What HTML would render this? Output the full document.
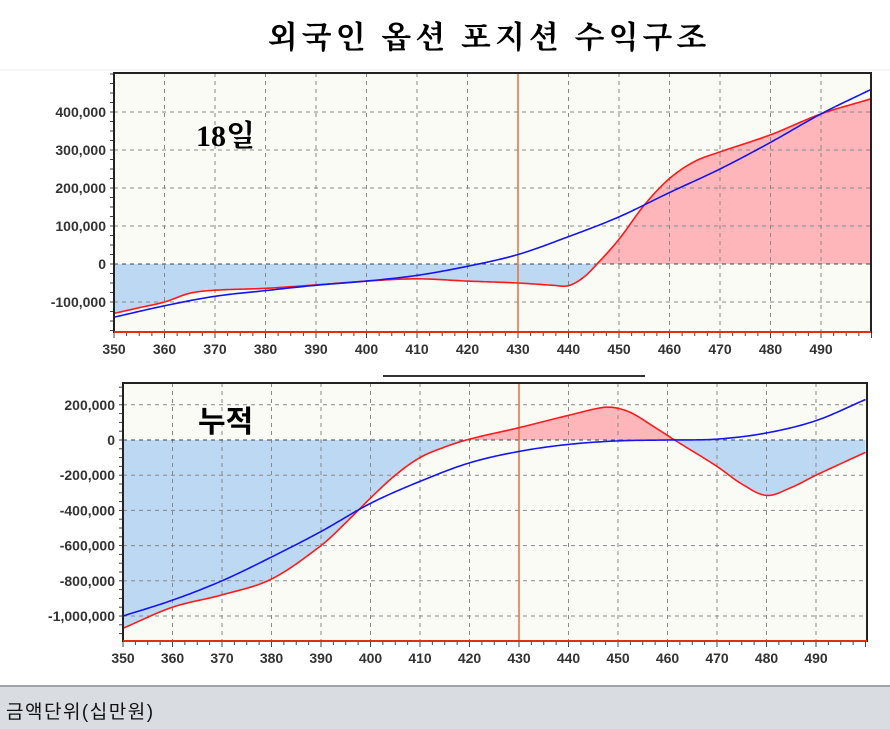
<!DOCTYPE html>
<html><head><meta charset="utf-8"><style>
html,body{margin:0;padding:0;background:#fff;width:890px;height:729px;overflow:hidden}
svg{display:block}
text{font-family:"Liberation Sans","Noto Sans CJK KR",sans-serif}
</style></head><body>
<svg width="890" height="729" xmlns="http://www.w3.org/2000/svg">
<rect x="0" y="0" width="890" height="729" fill="#fff"/>
<text x="489" y="48" text-anchor="middle" font-size="31" font-weight="bold" style="font-family:'Liberation Serif','Noto Serif CJK SC',serif" letter-spacing="4">외국인 옵션 포지션 수익구조</text>
<line x1="0" y1="70" x2="890" y2="70" stroke="#eee"/>
<g id="gtop"></g>
<g id="gbot"></g>
<line x1="383" y1="376" x2="645" y2="376" stroke="#333" stroke-width="2"/>
<rect x="0" y="686" width="890" height="43" fill="#d9dde2"/>
<line x1="0" y1="686" x2="890" y2="686" stroke="#a0a4a8" stroke-width="2"/>
<text x="6" y="718" font-size="19" fill="#111" letter-spacing="1.5">금액단위(십만원)</text>
</svg>
<script>
(function(){
const NS="http://www.w3.org/2000/svg";
function el(p,t,a,txt){const e=document.createElementNS(NS,t);for(const k in a)e.setAttribute(k,a[k]);if(txt!==undefined)e.textContent=txt;p.appendChild(e);return e;}
function interp(pts,v){for(let i=0;i<pts.length-1;i++){if(v>=pts[i][0]&&v<=pts[i+1][0]){const a=pts[i],b=pts[i+1];
 const p0=pts[Math.max(0,i-1)],p3=pts[Math.min(pts.length-1,i+2)];const t=(v-a[0])/(b[0]-a[0]);
 const m1=(b[1]-p0[1])/(b[0]-p0[0])*(b[0]-a[0]),m2=(p3[1]-a[1])/(p3[0]-a[0])*(b[0]-a[0]);
 const t2=t*t,t3=t2*t;return (2*t3-3*t2+1)*a[1]+(t3-2*t2+t)*m1+(-2*t3+3*t2)*b[1]+(t3-t2)*m2;}}return pts[pts.length-1][1];}
function chart(g,o){
 const X=v=>o.x0+(v-350)*o.sx, Y=v=>o.y0-v*o.sy;
 el(g,'rect',{x:o.L,y:o.T,width:o.R-o.L,height:o.B-o.T,fill:'#fbfbf6'});
 let pos=`M${X(350)},${o.y0}`,neg=`M${X(350)},${o.y0}`;
 for(let v=350;v<=500;v+=0.5){const r=interp(o.red,v);pos+=` L${X(v)},${Y(Math.max(r,0))}`;neg+=` L${X(v)},${Y(Math.min(r,0))}`;}
 pos+=` L${X(500)},${o.y0} Z`;neg+=` L${X(500)},${o.y0} Z`;
 el(g,'path',{d:pos,fill:'#ffb6bb'});el(g,'path',{d:neg,fill:'#bcd8f2'});
 for(let v=360;v<=490;v+=10)el(g,'line',{x1:X(v),y1:o.T,x2:X(v),y2:o.B,stroke:'#888','stroke-dasharray':'4,4'});
 o.yt.forEach(t=>{el(g,'line',{x1:o.L,y1:Y(t[0]),x2:o.R,y2:Y(t[0]),stroke:t[0]==0?'#444':'#888','stroke-dasharray':'4,4'});
  el(g,'text',{x:o.L-8,y:Y(t[0])+5,'text-anchor':'end','font-size':14,'font-weight':600,fill:'#333'},t[1]);});
 for(let y=o.y0;y>o.T;y-=o.sy*o.minor)el(g,'line',{x1:o.L-4,y1:y,x2:o.L,y2:y,stroke:'#444'});
 for(let y=o.y0;y<o.B;y+=o.sy*o.minor)el(g,'line',{x1:o.L-4,y1:y,x2:o.L,y2:y,stroke:'#444'});
 for(let v=350;v<=500;v+=2.5)el(g,'line',{x1:X(v),y1:o.B,x2:X(v),y2:o.B+(v%10==0?6:4),stroke:'#444'});
 for(let v=350;v<=490;v+=10)el(g,'text',{x:X(v),y:o.B+22,'text-anchor':'middle','font-size':14,'font-weight':600,fill:'#333'},v);
 el(g,'line',{x1:X(430),y1:o.T,x2:X(430),y2:o.B,stroke:'#e8703a','stroke-width':1.5});
 const line=(pts,c)=>{let d='';for(let v=350;v<=500;v+=0.5)d+=(d?' L':'M')+X(v)+','+Y(interp(pts,v));el(g,'path',{d:d,fill:'none',stroke:c,'stroke-width':1.6});};
 line(o.red,'#ff1a1a');line(o.blue,'#1515ee');
 el(g,'rect',{x:o.L,y:o.T,width:o.R-o.L,height:o.B-o.T,fill:'none',stroke:'#222','stroke-width':2});
 el(g,'line',{x1:o.L,y1:o.B,x2:o.R,y2:o.B,stroke:'#e03010','stroke-width':2});
}
const gt=document.getElementById('gtop'),gb=document.getElementById('gbot');
chart(gt,{L:114,T:73,R:871,B:332,x0:114,sx:5.05,y0:264,sy:38,minor:0.25,
 yt:[[4,'400,000'],[3,'300,000'],[2,'200,000'],[1,'100,000'],[0,'0'],[-1,'-100,000']],
 red:[[350,-1.3],[355,-1.15],[360,-1.0],[365,-0.77],[370,-0.69],[380,-0.64],[390,-0.55],[400,-0.45],[410,-0.39],[420,-0.45],[430,-0.5],[437,-0.56],[440,-0.57],[443,-0.35],[446,0.05],[450,0.65],[455,1.55],[460,2.25],[465,2.7],[470,2.95],[480,3.4],[490,3.95],[500,4.35]],
 blue:[[350,-1.4],[360,-1.1],[370,-0.85],[380,-0.7],[390,-0.56],[400,-0.45],[410,-0.3],[420,-0.06],[430,0.25],[440,0.72],[450,1.24],[460,1.88],[470,2.5],[480,3.2],[490,3.95],[500,4.6]]});
chart(gb,{L:123,T:383,R:867,B:641,x0:123,sx:4.95,y0:440,sy:17.6,minor:0.5,
 yt:[[2,'200,000'],[0,'0'],[-2,'-200,000'],[-4,'-400,000'],[-6,'-600,000'],[-8,'-800,000'],[-10,'-1,000,000']],
 red:[[350,-10.7],[360,-9.5],[370,-8.8],[380,-7.9],[390,-6.0],[395,-4.7],[400,-3.3],[405,-2.0],[410,-1.0],[415,-0.4],[420,0.05],[430,0.7],[440,1.4],[447,1.85],[450,1.8],[453,1.5],[457,0.8],[462,-0.1],[470,-1.5],[475,-2.5],[480,-3.15],[485,-2.7],[490,-2.0],[500,-0.7]],
 blue:[[350,-10],[360,-9.1],[370,-8.0],[380,-6.65],[390,-5.2],[400,-3.6],[410,-2.35],[420,-1.3],[430,-0.65],[440,-0.25],[450,-0.05],[460,0],[470,0.05],[480,0.4],[490,1.1],[500,2.3]]});
el(gt,'text',{x:196,y:146,'font-size':30,'font-weight':'bold',style:"font-family:'Liberation Serif','Noto Serif CJK SC',serif"},'18일');
el(gb,'text',{x:198,y:432,'font-size':30,'font-weight':'bold'},'누적');
})();
</script>
</body></html>
